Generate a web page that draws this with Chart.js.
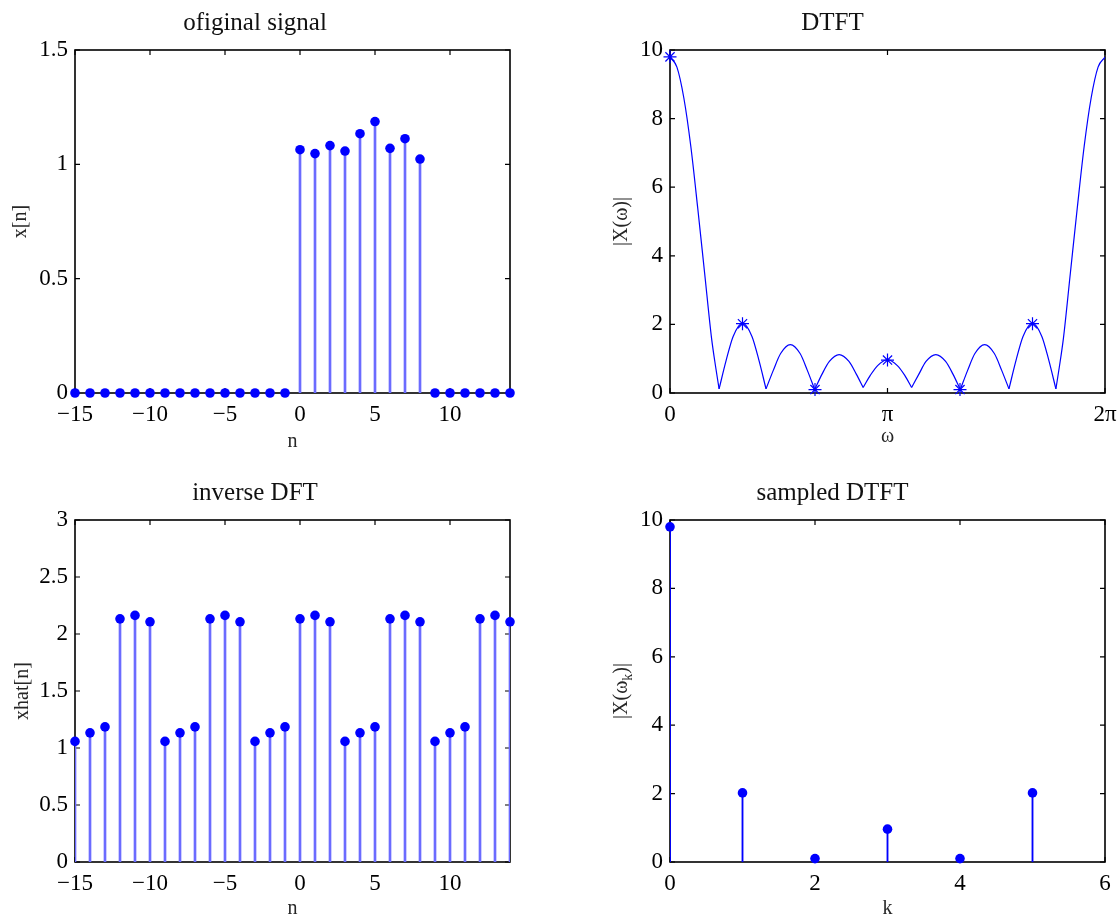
<!DOCTYPE html>
<html>
<head>
<meta charset="utf-8">
<title>DTFT sampling</title>
<script src="https://cdn.jsdelivr.net/npm/chart.js@4.4.1/dist/chart.umd.min.js"></script>
<style>
  html, body { margin: 0; padding: 0; background: #fff; }
  #fig { position: relative; width: 1117px; height: 916px; overflow: hidden; }
  .panel { position: absolute; }
  .panel canvas { display: block; }
</style>
</head>
<body>
<div id="fig">
  <div class="panel" style="left:0;top:0"><canvas id="origChart" width="558" height="458"></canvas></div>
  <div class="panel" style="left:560px;top:0"><canvas id="dtftChart" width="557" height="458"></canvas></div>
  <div class="panel" style="left:0;top:460px"><canvas id="idftChart" width="558" height="456"></canvas></div>
  <div class="panel" style="left:560px;top:460px"><canvas id="sampChart" width="557" height="456"></canvas></div>
</div>
<script>
// Data
const nIdx = [-15, -14, -13, -12, -11, -10, -9, -8, -7, -6, -5, -4, -3, -2, -1,
              0, 1, 2, 3, 4, 5, 6, 7, 8, 9, 10, 11, 12, 13, 14];
const xOrig = [0, 0, 0, 0, 0, 0, 0, 0, 0, 0, 0, 0, 0, 0, 0,
               1.064, 1.047, 1.082, 1.058, 1.134, 1.187, 1.070, 1.112, 1.023,
               0, 0, 0, 0, 0, 0];
const xHat = [1.058, 1.133, 1.185, 2.133, 2.163, 2.107,
              1.058, 1.133, 1.185, 2.133, 2.163, 2.107,
              1.058, 1.133, 1.185, 2.133, 2.163, 2.107,
              1.058, 1.133, 1.185, 2.133, 2.163, 2.107,
              1.058, 1.133, 1.185, 2.133, 2.163, 2.107];

// DTFT magnitude (omega in rad)
const dtftW = [0, 0.10, 0.20, 0.30, 0.40, 0.50, 0.60, 0.66, 0.709,
               0.811, 0.912, 1.048, 1.184, 1.285, 1.387,
               1.492, 1.598, 1.738, 1.879, 1.984, 2.09,
               2.196, 2.302, 2.443, 2.585, 2.691, 2.79,
               2.895, 2.999, 3.1416, 3.284, 3.389, 3.49,
               3.595, 3.698, 3.840, 3.981, 4.087, 4.193,
               4.299, 4.404, 4.545, 4.685, 4.791, 4.896,
               4.998, 5.099, 5.235, 5.371, 5.472, 5.574,
               5.623, 5.683, 5.783, 5.883, 5.983, 6.083, 6.183, 6.2832];
const dtftMag = [9.79, 9.5, 8.6, 7.2, 5.4, 3.5, 1.6, 0.75, 0.12,
                 0.95, 1.65, 2.03, 1.65, 0.95, 0.12,
                 0.66, 1.15, 1.41, 1.15, 0.66, 0.10,
                 0.55, 0.92, 1.12, 0.92, 0.55, 0.16,
                 0.52, 0.80, 0.97, 0.80, 0.52, 0.16,
                 0.55, 0.92, 1.12, 0.92, 0.55, 0.10,
                 0.66, 1.15, 1.41, 1.15, 0.66, 0.12,
                 0.95, 1.65, 2.03, 1.65, 0.95, 0.12,
                 0.75, 1.6, 3.5, 5.4, 7.2, 8.6, 9.5, 9.79];

const kIdx = [0, 1, 2, 3, 4, 5];
const sampledMag = [9.80, 2.02, 0.10, 0.96, 0.10, 2.02];

// Tick labels
const nTicks = [-15, -10, -5, 0, 5, 10];
const origYTicks = [0, 0.5, 1, 1.5];
const hatYTicks = [0, 0.5, 1, 1.5, 2, 2.5, 3];
const magYTicks = [0, 2, 4, 6, 8, 10];
const wTicks = [0, Math.PI, 2 * Math.PI];
const wTickLabels = ['0', 'π', '2π'];
const kTicks = [0, 2, 4, 6];

Chart.defaults.font.family = "'Liberation Serif', 'Times New Roman', serif";

const BLUE = '#0000ff';
const STEM = '#6b6bff';

const signedLabel = v => (v < 0 ? '\u2212' + (-v) : String(v));

// axes box + inward ticks on all four sides (matlab look)
const framePlugin = {
  id: 'frame',
  beforeDatasetsDraw(chart) {
    const { ctx, chartArea: a, scales: { x, y } } = chart;
    ctx.save();
    ctx.strokeStyle = '#000';
    ctx.lineWidth = 1.2;
    ctx.beginPath();
    x.ticks.forEach(t => {
      const px = x.getPixelForValue(t.value);
      ctx.moveTo(px, a.bottom); ctx.lineTo(px, a.bottom - 5);
      ctx.moveTo(px, a.top); ctx.lineTo(px, a.top + 5);
    });
    y.ticks.forEach(t => {
      const py = y.getPixelForValue(t.value);
      ctx.moveTo(a.left, py); ctx.lineTo(a.left + 5, py);
      ctx.moveTo(a.right, py); ctx.lineTo(a.right - 5, py);
    });
    ctx.stroke();
    ctx.lineWidth = 1.6;
    ctx.strokeRect(a.left, a.top, a.width, a.height);
    ctx.restore();
  }
};

function panelOptions(cfg) {
  return {
    responsive: false,
    animation: false,
    events: [],
    layout: { autoPadding: false, padding: { left: 0, top: 0, right: cfg.padRight, bottom: 0 } },
    plugins: {
      legend: { display: false },
      tooltip: { enabled: false },
      title: {
        display: true, text: cfg.title, color: '#111',
        font: { size: 25, weight: 'normal', lineHeight: 1 },
        padding: { top: cfg.titleTop, bottom: cfg.titleBottom }
      }
    },
    scales: {
      x: {
        type: 'linear', min: cfg.xMin, max: cfg.xMax, offset: false,
        grid: { display: false, drawTicks: false, offset: false },
        border: { display: false },
        afterBuildTicks: s => { s.ticks = cfg.xTicks.map(v => ({ value: v })); },
        afterFit: s => { s.height = cfg.xAxisH; s.paddingLeft = 0; s.paddingRight = 0; },
        ticks: { color: '#000', font: { size: 23 }, padding: 8, maxRotation: 0, autoSkip: false, callback: cfg.xFmt },
        title: {
          display: true, text: cfg.xLabel, color: '#262626',
          font: { size: 20, lineHeight: 1 }, padding: { top: 0, bottom: cfg.xLabelPad }
        }
      },
      y: {
        type: 'linear', min: 0, max: cfg.yMax,
        grid: { display: false, drawTicks: false },
        border: { display: false },
        afterBuildTicks: s => { s.ticks = cfg.yTicks.map(v => ({ value: v })); },
        afterFit: s => { s.width = cfg.yAxisW; s.paddingTop = 0; s.paddingBottom = 0; },
        ticks: { color: '#000', font: { size: 23 }, padding: 7, autoSkip: false, callback: v => String(v) },
        title: {
          display: cfg.yLabel !== null, text: cfg.yLabel || '', color: '#262626',
          font: { size: 20, lineHeight: 1 }, padding: { top: cfg.yLabelPad, bottom: 0 }
        }
      }
    }
  };
}

function stemDatasets(xs, ys, stemColor, stemWidth) {
  const pts = xs.map((v, i) => ({ x: v, y: ys[i] }));
  return [
    { type: 'line', data: pts, showLine: false, pointRadius: 4.8, pointBackgroundColor: BLUE,
      pointBorderWidth: 0, clip: false, order: 0 },
    { type: 'bar', data: pts, backgroundColor: stemColor, borderWidth: 0,
      barThickness: stemWidth, grouped: false, order: 1 }
  ];
}

// original signal
new Chart(document.getElementById('origChart'), {
  type: 'bar',
  data: { datasets: stemDatasets(nIdx, xOrig, STEM, 2) },
  options: panelOptions({
    title: 'ofiginal signal', titleTop: 11, titleBottom: 14, padRight: 48,
    xMin: -15, xMax: 14, xTicks: nTicks, xFmt: signedLabel, xAxisH: 65, xLabel: 'n', xLabelPad: 6,
    yMax: 1.5, yTicks: origYTicks, yAxisW: 75, yLabel: 'x[n]', yLabelPad: 11
  }),
  plugins: [framePlugin]
});

// DTFT: split the curve into lobes at the nulls so the dips stay sharp
const dtftLobes = [];
let lobeStart = 0;
for (let i = 1; i < dtftMag.length; i++) {
  const isNull = i === dtftMag.length - 1 || (dtftMag[i] < dtftMag[i - 1] && dtftMag[i] < dtftMag[i + 1]);
  if (isNull) {
    dtftLobes.push(dtftW.slice(lobeStart, i + 1).map((w, j) => ({ x: w, y: dtftMag[lobeStart + j] })));
    lobeStart = i;
  }
}
const N = kIdx.length;
const dtftDatasets = dtftLobes.map(lobe => ({
  data: lobe, borderColor: BLUE, borderWidth: 1.2, pointRadius: 0,
  cubicInterpolationMode: 'monotone', order: 1
}));
dtftDatasets.push({
  data: kIdx.map((k, i) => ({ x: 2 * Math.PI * k / N, y: sampledMag[i] })),
  showLine: false, pointStyle: 'star', pointRadius: 6.5, pointBorderColor: BLUE,
  pointBackgroundColor: 'rgba(0,0,0,0)', pointBorderWidth: 1.2, clip: false, order: 0
});

new Chart(document.getElementById('dtftChart'), {
  type: 'line',
  data: { datasets: dtftDatasets },
  options: panelOptions({
    title: 'DTFT', titleTop: 11, titleBottom: 14, padRight: 12,
    xMin: 0, xMax: 2 * Math.PI, xTicks: wTicks, xFmt: (v, i) => wTickLabels[i], xAxisH: 65, xLabel: 'ω', xLabelPad: 11,
    yMax: 10, yTicks: magYTicks, yAxisW: 110, yLabel: '|X(ω)|', yLabelPad: 52
  }),
  plugins: [framePlugin]
});

// inverse DFT
new Chart(document.getElementById('idftChart'), {
  type: 'bar',
  data: { datasets: stemDatasets(nIdx, xHat, STEM, 2) },
  options: panelOptions({
    title: 'inverse DFT', titleTop: 20.5, titleBottom: 14.5, padRight: 48,
    xMin: -15, xMax: 14, xTicks: nTicks, xFmt: signedLabel, xAxisH: 54, xLabel: 'n', xLabelPad: -3,
    yMax: 3, yTicks: hatYTicks, yAxisW: 75, yLabel: 'xhat[n]', yLabelPad: 12.5
  }),
  plugins: [framePlugin]
});

// y label with subscript for the sampled plot
const subLabelPlugin = {
  id: 'subLabel',
  afterDraw(chart) {
    const { ctx, chartArea: a } = chart;
    const main = '|X(ω', sub = 'k', tail = ')|';
    ctx.save();
    ctx.fillStyle = '#262626';
    ctx.textBaseline = 'middle';
    ctx.textAlign = 'left';
    ctx.font = "20px 'Liberation Serif', serif";
    const w1 = ctx.measureText(main).width;
    const w3 = ctx.measureText(tail).width;
    ctx.font = "14px 'Liberation Serif', serif";
    const w2 = ctx.measureText(sub).width;
    const total = w1 + w2 + w3;
    ctx.translate(62, (a.top + a.bottom) / 2);
    ctx.rotate(-Math.PI / 2);
    const x0 = -total / 2;
    ctx.font = "20px 'Liberation Serif', serif";
    ctx.fillText(main, x0, 0);
    ctx.font = "14px 'Liberation Serif', serif";
    ctx.fillText(sub, x0 + w1, 6);
    ctx.font = "20px 'Liberation Serif', serif";
    ctx.fillText(tail, x0 + w1 + w2, 0);
    ctx.restore();
  }
};

new Chart(document.getElementById('sampChart'), {
  type: 'bar',
  data: { datasets: stemDatasets(kIdx, sampledMag, BLUE, 1.2) },
  options: panelOptions({
    title: 'sampled DTFT', titleTop: 20.5, titleBottom: 14.5, padRight: 12,
    xMin: 0, xMax: 6, xTicks: kTicks, xFmt: v => String(v), xAxisH: 54, xLabel: 'k', xLabelPad: -3,
    yMax: 10, yTicks: magYTicks, yAxisW: 110, yLabel: null, yLabelPad: 0
  }),
  plugins: [framePlugin, subLabelPlugin]
});
</script>
</body>
</html>
